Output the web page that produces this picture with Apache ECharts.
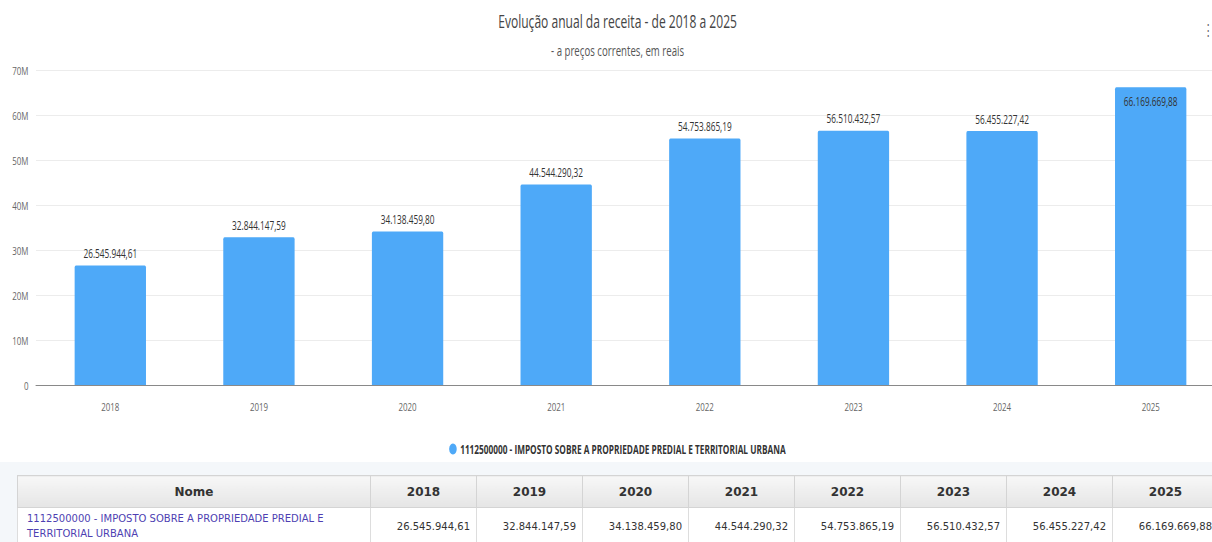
<!DOCTYPE html>
<html><head><meta charset="utf-8">
<script src="https://cdn.jsdelivr.net/npm/echarts@6/dist/echarts.min.js"></script>
<style>
html,body{margin:0;padding:0;background:#fff;width:1212px;height:542px;overflow:hidden;}
#chart{position:absolute;left:0;top:0;width:1790px;height:462px;transform:scaleX(0.69);transform-origin:0 0;}
#tablewrap{position:absolute;left:0;top:462px;width:1212px;height:80px;background:#f4f7fa;}
table{position:absolute;left:17px;top:13px;border-collapse:collapse;table-layout:fixed;width:1202px;font-family:"DejaVu Sans",Verdana,sans-serif;font-size:10px;color:#333;}
th{height:29px;background:linear-gradient(#f7f7f7,#e5e5e5);border:1px solid #d4d4d4;font-weight:bold;font-size:12px;text-align:center;color:#333;}
td{height:36px;background:#fff;border:1px solid #ddd;text-align:right;padding:0 6px;white-space:nowrap;overflow:hidden;}
td.name{text-align:left;color:#4e3fb2;white-space:normal;line-height:15px;padding:0 9px;}
</style></head><body>
<div id="chart"></div>
<div id="tablewrap"><table id="tbl"></table></div>
<script>
const categories = ['2018','2019','2020','2021','2022','2023','2024','2025'];
const values = [26545944.61, 32844147.59, 34138459.80, 44544290.32, 54753865.19, 56510432.57, 56455227.42, 66169669.88];
const seriesName = '1112500000 - IMPOSTO SOBRE A PROPRIEDADE PREDIAL E TERRITORIAL URBANA';
const yTicks = ['0','10M','20M','30M','40M','50M','60M','70M'];

function fmtBR(v){
  const parts = v.toFixed(2).split('.');
  return parts[0].replace(/\B(?=(\d{3})+(?!\d))/g,'.') + ',' + parts[1];
}
const S = 0.69;
const FONT = '"Open Sans","Noto Sans",sans-serif';
const chart = echarts.init(document.getElementById('chart'), null, {renderer:'svg'});
chart.setOption({
  animation:false,
  title:[
    {text:'Evolução anual da receita - de 2018 a 2025', left:'center', top:7,
     textStyle:{fontFamily:FONT,fontSize:17.5,fontWeight:'normal',color:'#444'}},
    {text:'- a preços correntes, em reais', left:'center', top:39,
     textStyle:{fontFamily:FONT,fontSize:14,fontWeight:'normal',color:'#555'}}
  ],
  graphic:[{type:'text', left:1203/S, top:22, style:{text:'⋮', fontSize:15, fill:'#666'}}],
  legend:{bottom:2, left:'center', icon:'circle', itemWidth:11, itemHeight:11, itemGap:6,
    textStyle:{fontFamily:FONT,fontSize:12,fontWeight:'bold',color:'#333'}},
  grid:{left:36/S, width:1189/S, top:70, bottom:77, outerBoundsMode:'none', containLabel:false},
  xAxis:{type:'category', data:categories,
    axisLine:{lineStyle:{color:'#777'}}, axisTick:{show:false},
    axisLabel:{fontFamily:FONT,fontSize:11.5,color:'#666',margin:15}},
  yAxis:{type:'value', min:0, max:70000000, interval:10000000,
    axisLabel:{fontFamily:FONT,fontSize:11.5,color:'#666',margin:11,
      formatter:(v)=>yTicks[Math.round(v/10000000)]},
    splitLine:{lineStyle:{color:'#e8e8e8'}}},
  series:[{name:seriesName, type:'bar', barWidth:'48%',
    itemStyle:{color:'#4ea9f8', borderRadius:[2,2,0,0]},
    data: values.map((v)=>({value:v, label: v>65000000?{position:'insideTop',distance:8}:undefined})),
    label:{show:true, position:'top', distance:6, fontFamily:FONT, fontSize:12, color:'#333',
      formatter:(p)=>fmtBR(p.value)}}]
});
// table
let html = '<colgroup><col style="width:353px">' + categories.map(()=>'<col style="width:106px">').join('') + '</colgroup>';
html += '<tr><th>Nome</th>' + categories.map(c=>'<th>'+c+'</th>').join('') + '</tr>';
html += '<tr><td class="name">'+seriesName+'</td>' + values.map(v=>'<td>'+fmtBR(v)+'</td>').join('') + '</tr>';
document.getElementById('tbl').innerHTML = html;
</script>
</body></html>
